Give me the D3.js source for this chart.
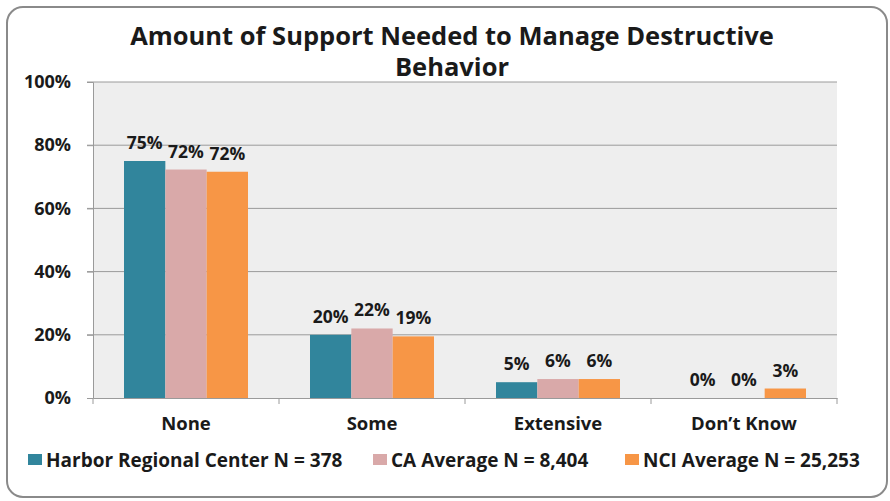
<!DOCTYPE html>
<html>
<head>
<meta charset="utf-8">
<script src="https://cdn.jsdelivr.net/npm/d3@7/dist/d3.min.js"></script>
<style>
  body { margin: 0; background: #fff; }
  text { font-family: "Open Sans", "DejaVu Sans", sans-serif; font-weight: 700; fill: #1a1a1a; }
</style>
</head>
<body>
<div id="chart"></div>
<script>
// ── Data ───────────────────────────────────────────────────────────────────
const categories = ['None', 'Some', 'Extensive', 'Don\u2019t Know'];
const seriesNames = ['Harbor Regional Center N = 378', 'CA Average N = 8,404', 'NCI Average N = 25,253'];
const harborValues = [75, 20, 5, 0];
const caValues = [72.3, 22, 6, 0];
const nciValues = [71.6, 19.5, 6, 3];
const harborLabels = ['75%', '20%', '5%', '0%'];
const caLabels = ['72%', '22%', '6%', '0%'];
const nciLabels = ['72%', '19%', '6%', '3%'];
const yTicks = [0, 20, 40, 60, 80, 100];

const COLORS = ['#31859c', '#d9a9a9', '#f79646'];

const series = [
  { name: seriesNames[0], values: harborValues, labels: harborLabels },
  { name: seriesNames[1], values: caValues, labels: caLabels },
  { name: seriesNames[2], values: nciValues, labels: nciLabels },
];

// ── Layout ─────────────────────────────────────────────────────────────────
const W = 890, H = 501;
const plot = { left: 93, right: 837, top: 82, bottom: 398 };

const svg = d3.select('#chart').append('svg').attr('width', W).attr('height', H);

// outer frame
svg.append('rect')
  .attr('x', 7).attr('y', 7).attr('width', 880).attr('height', 490)
  .attr('rx', 16)
  .attr('fill', '#fff').attr('stroke', '#8a8a8a').attr('stroke-width', 2);

// title
svg.append('text').attr('x', 452).attr('y', 45).attr('text-anchor', 'middle')
  .attr('font-size', '25.5px').text('Amount of Support Needed to Manage Destructive');
svg.append('text').attr('x', 452).attr('y', 76).attr('text-anchor', 'middle')
  .attr('font-size', '25.5px').text('Behavior');

// scales
const x0 = d3.scaleBand().domain(categories).range([plot.left, plot.right]).paddingInner(0).paddingOuter(0);
const x1 = d3.scaleBand().domain(d3.range(series.length)).range([0, x0.bandwidth()]).paddingInner(0).paddingOuter(0.75);
const y = d3.scaleLinear().domain([0, 100]).range([plot.bottom, plot.top]);

// plot background
svg.append('rect')
  .attr('x', plot.left).attr('y', plot.top)
  .attr('width', plot.right - plot.left).attr('height', plot.bottom - plot.top)
  .attr('fill', '#eeeeee');

// gridlines
svg.append('g').selectAll('line')
  .data(yTicks.filter(t => t > 0))
  .join('line')
  .attr('x1', plot.left - 6).attr('x2', plot.right)
  .attr('y1', d => y(d)).attr('y2', d => y(d))
  .attr('stroke', '#9a9a9a').attr('stroke-width', 1);

// y axis
const yAxis = svg.append('g').attr('transform', `translate(${plot.left},0)`)
  .call(d3.axisLeft(y).tickValues(yTicks).tickFormat(d => d + '%').tickSize(6).tickPadding(16));
yAxis.select('.domain').attr('stroke', '#9a9a9a');
yAxis.selectAll('.tick line').attr('stroke', '#9a9a9a');
yAxis.selectAll('.tick text').attr('font-size', '18px').attr('fill', '#1a1a1a')
  .style('font-family', '"Open Sans", sans-serif').style('font-weight', 700);

// bars
const groups = svg.append('g').selectAll('g')
  .data(categories)
  .join('g')
  .attr('transform', d => `translate(${x0(d)},0)`);

groups.each(function(cat, ci) {
  const g = d3.select(this);
  series.forEach((s, si) => {
    const v = s.values[ci];
    g.append('rect')
      .attr('x', x1(si)).attr('width', x1.bandwidth())
      .attr('y', y(v)).attr('height', y(0) - y(v))
      .attr('fill', COLORS[si]);
    g.append('text')
      .attr('x', x1(si) + x1.bandwidth() / 2)
      .attr('y', y(v) - 12)
      .attr('text-anchor', 'middle')
      .attr('font-size', '17.5px')
      .text(s.labels[ci]);
  });
});

// x axis
const xAxis = svg.append('g').attr('transform', `translate(0,${plot.bottom})`)
  .call(d3.axisBottom(x0).tickSize(0).tickPadding(19));
xAxis.select('.domain').attr('stroke', '#9a9a9a');
xAxis.selectAll('.tick text').attr('font-size', '18.5px').attr('fill', '#1a1a1a')
  .style('font-family', '"Open Sans", sans-serif').style('font-weight', 700);
svg.append('g').selectAll('line')
  .data(categories.map(c => x0(c)).concat([plot.right]))
  .join('line')
  .attr('x1', d => d).attr('x2', d => d)
  .attr('y1', plot.bottom).attr('y2', plot.bottom + 6)
  .attr('stroke', '#9a9a9a');

// legend
const legendX = [28, 373, 625];
const legend = svg.append('g').selectAll('g')
  .data(series)
  .join('g')
  .attr('transform', (d, i) => `translate(${legendX[i]},454)`);
legend.append('rect').attr('width', 14).attr('height', 11).attr('fill', (d, i) => COLORS[i]);
legend.append('text').attr('x', 18).attr('y', 13).attr('font-size', '19px').text(d => d.name);
</script>
</body>
</html>
